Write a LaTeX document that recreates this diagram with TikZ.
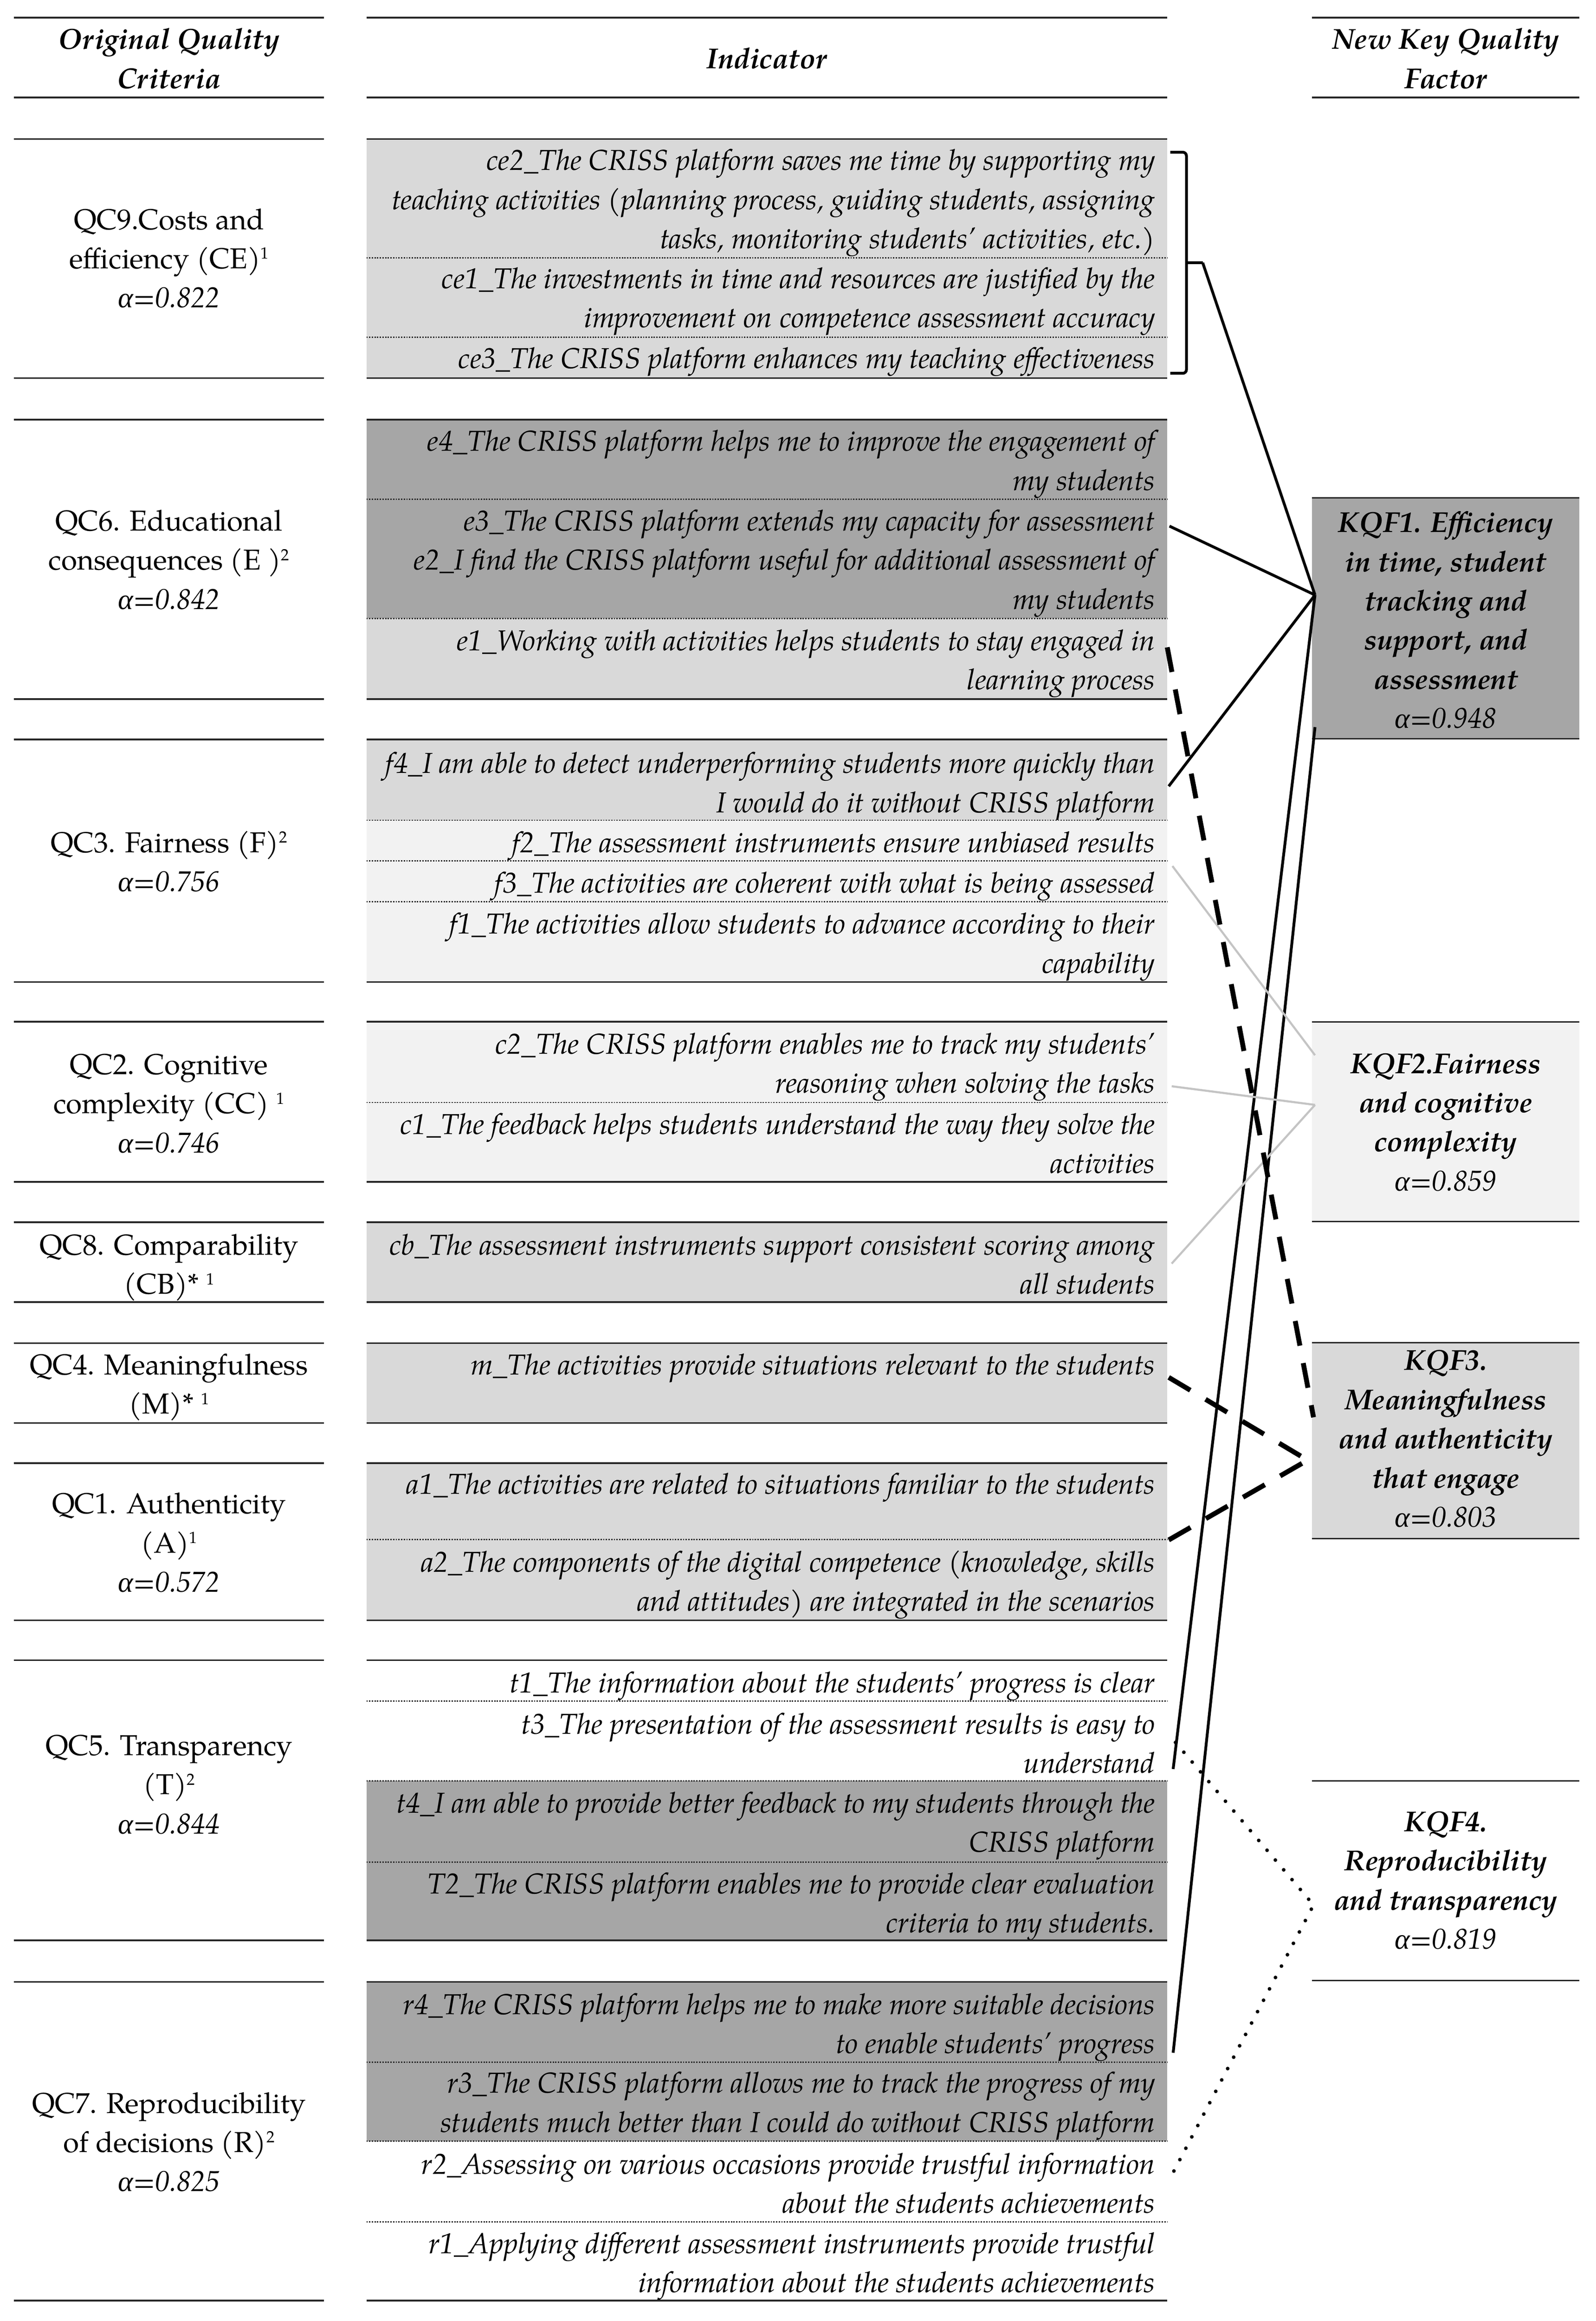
\documentclass[tikz,border=0pt]{standalone}
\usepackage{fontspec}
\setmainfont{texgyrepagella}[Extension=.otf, UprightFont=*-regular, ItalicFont=*-italic, BoldFont=*-bold, BoldItalicFont=*-bolditalic]
\newfontfamily\grk{Liberation Serif}
\usetikzlibrary{calc}
\definecolor{dk}{HTML}{A6A6A6}
\definecolor{lt}{HTML}{D9D9D9}
\definecolor{vl}{HTML}{F2F2F2}
\definecolor{gl}{HTML}{C4C4C4}
\definecolor{rl}{HTML}{262626}
\newcommand\fs{\fontsize{19.5pt}{26.5pt}\selectfont}
\newcommand\al{{\grk\itshape α}}
\newcommand\tst{\rule{0pt}{19pt}}
\newcommand\supx[1]{\raisebox{6.5pt}{\fontsize{11pt}{11pt}\selectfont #1}}
% middle row: name, fill, top, bottom, first-line centre, text
\newcommand\mrow[6]{%
  \node[rowbox,fill=#2,minimum height={#4pt-#3pt}] (#1) at (248,#3) {};
  \node[itxt] (#1t) at (782,#5-13) {\tst #6};}
\newcommand\sepl[1]{\draw[dotsep] (#1.south west) -- (#1.south east);}
\newcommand\topr[1]{\draw[hrule] (#1.north west) -- (#1.north east);}
\newcommand\botr[1]{\draw[hrule] (#1.south west) -- (#1.south east);}
% left cell: name, top, bottom, first-line centre, text
\newcommand\lcell[5]{%
  \node[anchor=north west,minimum width=209.9pt,minimum height={#3pt-#2pt},inner sep=0pt,outer sep=0pt] (#1) at (9.4,#2) {};
  \draw[hrule] (#1.north west) -- (#1.north east);
  \draw[hrule] (#1.south west) -- (#1.south east);
  \node[ctxt] (#1t) at (114.4,#4-13) {\tst #5};}
% key factor cell: name, fill, top, bottom, first-line centre, text
\newcommand\kcell[6]{%
  \node[anchor=north west,minimum width=181pt,minimum height={#4pt-#3pt},inner sep=0pt,outer sep=0pt,fill=#2] (#1) at (888,#3) {};
  \draw[krule] (#1.north west) -- (#1.north east);
  \draw[krule] (#1.south west) -- (#1.south east);
  \node[ktxt] (#1t) at (978.5,#5-13) {\tst #6};}
\begin{document}
\begin{tikzpicture}[x=1pt,y=-1pt,
  rowbox/.style={anchor=north west,minimum width=542pt,inner sep=0pt,outer sep=0pt,draw=none},
  itxt/.style={anchor=north east,align=right,inner sep=0pt,font=\fs\itshape},
  ctxt/.style={anchor=north,align=center,inner sep=0pt,font=\fs},
  htxt/.style={anchor=north,align=center,inner sep=0pt,font=\fs\bfseries\itshape},
  ktxt/.style={anchor=north,align=center,inner sep=0pt,font=\fs\bfseries\itshape},
  hrule/.style={line width=1.1pt,draw=rl},
  krule/.style={line width=0.9pt,draw=rl},
  dotsep/.style={line width=0.9pt,draw=rl,dash pattern=on 0.9pt off 0.9pt},
  lnk/.style={line width=1.9pt,draw=black},
  dlnk/.style={line width=3.3pt,draw=black,dash pattern=on 17pt off 12pt},
  glnk/.style={line width=1.4pt,draw=gl},
  plnk/.style={line width=2.5pt,draw=black,dash pattern=on 0pt off 8.7pt,line cap=round},
]
\fill[white] (0,0) rectangle (1080,1570.5);
\useasboundingbox (0,0) rectangle (1080,1570.5);

% ---------- header ----------
\node[anchor=north west,minimum width=209.9pt,minimum height=54pt,inner sep=0pt,outer sep=0pt] (hl) at (9.4,12) {};
\node[anchor=north west,minimum width=542pt,minimum height=54pt,inner sep=0pt,outer sep=0pt] (hm) at (248,12) {};
\node[anchor=north west,minimum width=181pt,minimum height=54pt,inner sep=0pt,outer sep=0pt] (hr) at (888,12) {};
\foreach \h in {hl,hm,hr}{
  \draw[hrule,line width=1.4pt] (\h.north west) -- (\h.north east);
  \draw[hrule,line width=1.4pt] (\h.south west) -- (\h.south east);}
\node[htxt] (hlt) at (114.4,27-13) {\tst Original Quality\\Criteria};
\node[htxt] (hmt) at (519,40-13) {\tst Indicator};
\node[htxt] (hrt) at (978.5,27-13) {\tst New Key Quality\\Factor};

% ---------- left column ----------
\lcell{qc9}{94}{255.8}{149}{QC9.Costs and\\efficiency (CE)\supx{1}\\\textit{\al=0.822}}
\lcell{qc6}{284}{473}{353}{QC6. Educational\\consequences (E )\supx{2}\\\textit{\al=0.842}}
\lcell{qc3}{500.3}{664.5}{570.6}{QC3. Fairness (F)\supx{2}\\\textit{\al=0.756}}
\lcell{qc2}{691.4}{799.7}{720.8}{QC2. Cognitive\\complexity (CC) \supx{1}\\\textit{\al=0.746}}
\lcell{qc8}{827}{881}{843}{QC8. Comparability\\(CB)* \supx{1}}
\lcell{qc4}{908.8}{962.8}{924}{QC4. Meaningfulness\\(M)* \supx{1}}
\lcell{qc1}{990}{1096.4}{1018}{QC1. Authenticity\\(A)\supx{1}\\\textit{\al=0.572}}
\lcell{qc5}{1123.4}{1313}{1181.5}{QC5. Transparency\\(T)\supx{2}\\\textit{\al=0.844}}
\lcell{qc7}{1341}{1556.7}{1423.6}{QC7. Reproducibility\\of decisions (R)\supx{2}\\\textit{\al=0.825}}

% ---------- indicators ----------
\mrow{ce2}{lt}{94}{174.4}{109}{ce2\_The CRISS platform saves me time by supporting my\\teaching activities (planning process, guiding students, assigning\\tasks, monitoring students’ activities, etc.)}
\mrow{ce1}{lt}{174.4}{228.2}{189}{ce1\_The investments in time and resources are justified by the\\improvement on competence assessment accuracy}
\mrow{ce3}{lt}{228.2}{255.8}{243}{ce3\_The CRISS platform enhances my teaching effectiveness}
\sepl{ce2}\sepl{ce1}\topr{ce2}\botr{ce3}

\mrow{e4}{dk}{284}{337.7}{299}{e4\_The CRISS platform helps me to improve the engagement of\\my students}
\mrow{e32}{dk}{337.7}{418.5}{353}{e3\_The CRISS platform extends my capacity for assessment\\e2\_I find the CRISS platform useful for additional assessment of\\my students}
\mrow{e1}{lt}{418.5}{473}{434}{e1\_Working with activities helps students to stay engaged in\\learning process}
\sepl{e4}\sepl{e32}\topr{e4}\botr{e1}

\mrow{f4}{lt}{500.3}{555}{517}{f4\_I am able to detect underperforming students more quickly than\\I would do it without CRISS platform}
\mrow{f2}{vl}{555}{582.5}{570.6}{f2\_The assessment instruments ensure unbiased results}
\mrow{f3}{vl}{582.5}{610}{598}{f3\_The activities are coherent with what is being assessed}
\mrow{f1}{vl}{610}{664.5}{625.7}{f1\_The activities allow students to advance according to their\\capability}
\sepl{f4}\sepl{f2}\sepl{f3}\topr{f4}\botr{f1}

\mrow{c2}{vl}{691.4}{746}{706.8}{c2\_The CRISS platform enables me to track my students’\\reasoning when solving the tasks}
\mrow{c1}{vl}{746}{799.7}{761.3}{c1\_The feedback helps students understand the way they solve the\\activities}
\sepl{c2}\topr{c2}\botr{c1}

\mrow{cb}{lt}{827}{881}{843}{cb\_The assessment instruments support consistent scoring among\\all students}
\topr{cb}\botr{cb}

\mrow{m}{lt}{908.8}{962.8}{924}{m\_The activities provide situations relevant to the students}
\topr{m}\botr{m}

\mrow{a1}{lt}{990}{1041.7}{1004.8}{a1\_The activities are related to situations familiar to the students}
\mrow{a2}{lt}{1041.7}{1096.4}{1057.4}{a2\_The components of the digital competence (knowledge, skills\\and attitudes) are integrated in the scenarios}
\sepl{a1}\topr{a1}\botr{a2}

\mrow{t1}{white}{1123.4}{1151}{1139}{t1\_The information about the students’ progress is clear}
\mrow{t3}{white}{1151}{1205}{1167}{t3\_The presentation of the assessment results is easy to\\understand}
\mrow{t4}{dk}{1205}{1260}{1220.5}{t4\_I am able to provide better feedback to my students through the\\CRISS platform}
\mrow{T2}{dk}{1260}{1313}{1275}{T2\_The CRISS platform enables me to provide clear evaluation\\criteria to my students.}
\sepl{t1}\sepl{t3}\sepl{t4}\topr{t1}\botr{T2}

\mrow{r4}{dk}{1341}{1395.3}{1356.7}{r4\_The CRISS platform helps me to make more suitable decisions\\to enable students’ progress}
\mrow{r3}{dk}{1395.3}{1448.8}{1410}{r3\_The CRISS platform allows me to track the progress of my\\students much better than I could do without CRISS platform}
\mrow{r2}{white}{1448.8}{1503.4}{1464.8}{r2\_Assessing on various occasions provide trustful information\\about the students achievements}
\mrow{r1}{white}{1503.4}{1556.7}{1518.6}{r1\_Applying different assessment instruments provide trustful\\information about the students achievements}
\sepl{r4}\sepl{r3}\sepl{r2}\topr{r4}\botr{r1}

% ---------- key quality factors ----------
\kcell{k1}{dk}{337}{500}{354}{KQF1. Efficiency\\in time, student\\tracking and\\support, and\\assessment\\{\mdseries\al=0.948}}
\kcell{k2}{vl}{691.5}{826.5}{720}{KQF2.Fairness\\and cognitive\\complexity\\{\mdseries\al=0.859}}
\kcell{k3}{lt}{908.5}{1041}{921}{KQF3.\\Meaningfulness\\and authenticity\\that engage\\{\mdseries\al=0.803}}
\kcell{k4}{white}{1205}{1340}{1233}{KQF4.\\Reproducibility\\and transparency\\{\mdseries\al=0.819}}

% ---------- connector end points ----------
\coordinate (brT) at (792,103);
\coordinate (brB) at (792,252.6);
\coordinate (brM) at (814,177.8);
\coordinate (hub1) at (890,402.6);
\coordinate (k1b) at (890,492);
\coordinate (pE3) at (791.5,356);
\coordinate (pF4) at (791,532);
\coordinate (pT3) at (794,1197);
\coordinate (pR4) at (794,1389);
\coordinate (pE1) at (790,438);
\coordinate (k3a) at (889,959);
\coordinate (pM) at (791,932);
\coordinate (pA2) at (791,1042);
\coordinate (hub3) at (885,988);
\coordinate (pF3) at (793.5,586);
\coordinate (hub2a) at (890,714);
\coordinate (pC2) at (793,735);
\coordinate (pCB) at (793,855);
\coordinate (hub2) at (890,747.6);
\coordinate (pT3d) at (795.6,1179);
\coordinate (pR2) at (794.5,1469);
\coordinate (hub4) at (889,1289);

% ---------- connectors ----------
\draw[lnk,rounded corners=2.5pt] (brT) -- ++(11,0) -- ($(brB)+(11,0)$) -- (brB);
\draw[lnk] ($(brT)!0.5!(brB)+(11,0)$) -- (brM);
\draw[lnk] (brM) -- (hub1);
\draw[lnk] (pE3) -- (hub1);
\draw[lnk] (pF4) -- (hub1);
\draw[lnk] (hub1) -- (pT3);
\draw[lnk] (k1b) -- (pR4);

\draw[glnk] (pF3) -- (hub2a);
\draw[glnk] (pC2) -- (hub2);
\draw[glnk] (pCB) -- (hub2);

\draw[dlnk] (pE1) -- (k3a);
\draw[dlnk] (pM) -- (hub3);
\draw[dlnk] (pA2) -- (hub3);

\draw[plnk] (pT3d) -- (hub4);
\draw[plnk] (pR2) -- (hub4);
\end{tikzpicture}
\end{document}
